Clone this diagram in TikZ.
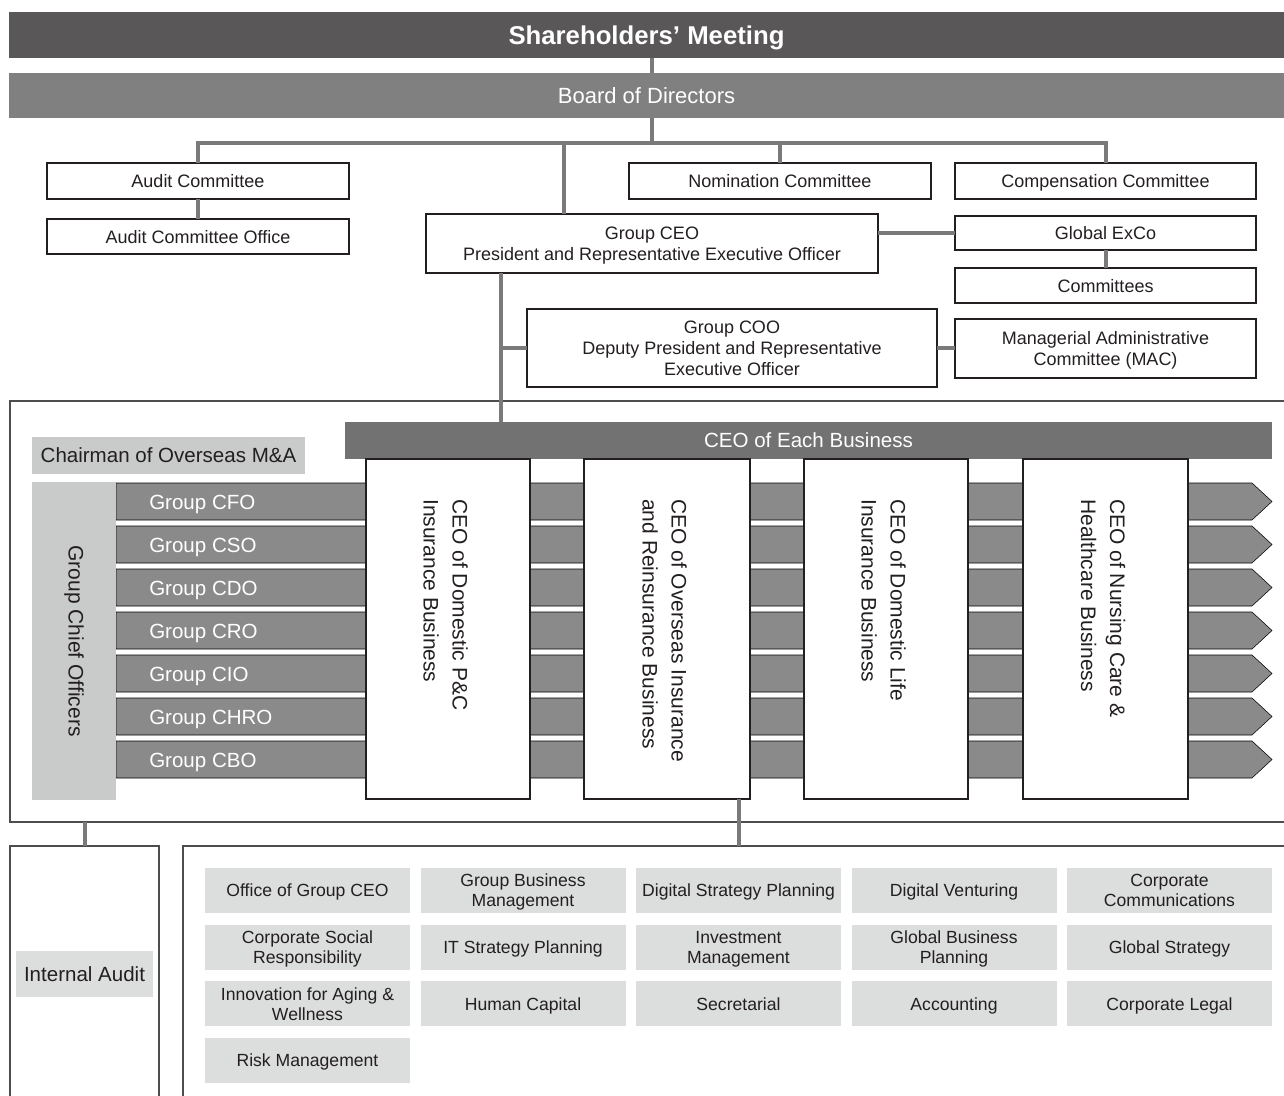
\documentclass[tikz,border=0pt]{standalone}
\usepackage{fontspec}
\setmainfont{Liberation Sans}
\definecolor{smgray}{RGB}{89,87,87}
\definecolor{bodgray}{RGB}{128,128,128}
\definecolor{ebgray}{RGB}{114,114,114}
\definecolor{bandgray}{RGB}{138,138,138}
\definecolor{litegray}{RGB}{201,202,202}
\definecolor{deptgray}{RGB}{220,221,221}
\definecolor{linegray}{RGB}{122,122,122}
\definecolor{ink}{RGB}{35,31,32}
\definecolor{framegray}{RGB}{77,77,77}
\begin{document}
\begin{tikzpicture}[x=0.75pt,y=0.75pt,yscale=-1,
  sz/.style 2 args={minimum width=#1*0.75pt,minimum height=#2*0.75pt},
  box/.style={draw=ink,line width=1pt,fill=white,text=ink,inner sep=0pt,outer sep=0pt,text depth=0pt,align=center,font=\fontsize{13.5}{15.75}\selectfont},
  bar/.style={inner sep=0pt,outer sep=0pt,text depth=0pt,text=white,align=center},
  frame/.style={draw=framegray,line width=1.5pt,inner sep=0pt,outer sep=0pt},
  conn/.style={draw=linegray,line width=3pt},
  band/.style={fill=bandgray},
  bandlbl/.style={text=white,anchor=base west,inner sep=0pt,font=\fontsize{15.4}{18}\selectfont},
  tag/.style={fill=litegray,text=ink,inner sep=0pt,outer sep=0pt,text depth=0pt,align=center,font=\fontsize{15.4}{18}\selectfont},
  vtext/.style={rotate=-90,anchor=west,align=left,text=ink,inner sep=0pt,font=\fontsize{15.75}{21.75}\selectfont},
  dept/.style={fill=deptgray,text=ink,inner sep=0pt,text depth=0pt,align=center,font=\fontsize{13.2}{15}\selectfont}]
\useasboundingbox (0,0) rectangle (1284,1095);

%Shape: Frames (open to the right and bottom)
\node[frame,sz={1290}{421}] (grp) at (655,611.5) {};
\node[frame,sz={149}{264}] (iaf) at (84.5,978) {};
\node[frame,sz={1117}{264}] (dpf) at (741.5,978) {};

% Text Node
\node[bar,fill=smgray,sz={1275}{46},font=\fontsize{19.3}{22}\selectfont\bfseries] (sm) at (646.5,35) {Shareholders’ Meeting};
% Text Node
\node[bar,fill=bodgray,sz={1275}{45},font=\fontsize{16.5}{19}\selectfont] (bod) at (646.5,95.5) {Board of Directors};

%Shape: Rectangle
\node[box,sz={302}{36}] (ac) at (198,181) {Audit Committee};
\node[box,sz={302}{35}] (aco) at (198,236.5) {Audit Committee Office};
\node[box,sz={302}{36}] (nc) at (780,181) {Nomination Committee};
\node[box,sz={301}{36}] (cc) at (1105.5,181) {Compensation Committee};
\node[box,sz={452}{59}] (ceo) at (652,243.5) {Group CEO\\President and Representative Executive Officer};
\node[box,sz={301}{34}] (gx) at (1105.5,233) {Global ExCo};
\node[box,sz={301}{35}] (cm) at (1105.5,285.5) {Committees};
\node[box,sz={410}{78}] (coo) at (732,348) {Group COO\\Deputy President and Representative\\Executive Officer};
\node[box,sz={301}{59}] (mac) at (1105.5,348.5) {Managerial Administrative\\Committee (MAC)};

%Straight Lines
\coordinate (bus) at (652,143);
\coordinate (ceotap) at (564,143);
\coordinate (spine) at (501,0);
\draw[conn] (sm.south -| ceo.north) -- (bod.north -| ceo.north);
\draw[conn] (bod.south -| bus) -- (bus);
\draw[conn] (ac.north) |- (bus) -| (cc.north);
\draw[conn] (nc.north) -- (nc.north |- bus);
\draw[conn] (ceotap) -- (ceotap |- ceo.north);
\draw[conn] (ac.south) -- (aco.north);
\draw[conn] (gx.west) -- (gx.west -| ceo.east);
\draw[conn] (gx.south) -- (cm.north);
\draw[conn] (coo.east) -- (coo.east -| mac.west);
\draw[conn] (ceo.south -| spine) -- (grp.north -| spine);
\draw[conn] (coo.west) -- (coo.west -| spine);

%Shape: Arrow bands
\foreach \lbl [count=\i from 0] in {CFO,CSO,CDO,CRO,CIO,CHRO,CBO}{
  \pgfmathsetmacro{\y}{483+43*\i}
  \draw[band] (116,\y) -- (1252,\y) -- (1272,\y+18.5) -- (1252,\y+37) -- (116,\y+37) -- cycle;
  \node[bandlbl] (g\lbl) at (149,\y+26.5) {Group \lbl};
}

% Text Node
\node[bar,fill=ebgray,sz={927}{37},font=\fontsize{15.4}{18}\selectfont] (eb) at (808.5,440.5) {CEO of Each Business};
\draw[conn] (grp.north -| spine) -- (eb.north -| spine);
\node[tag,sz={273}{37}] (mna) at (168.5,455.5) {Chairman of Overseas M\&A};
\node[tag,sz={84}{318}] (gco) at (74,641) {};
\node[vtext,anchor=center] (gcotxt) at (gco.center) {Group Chief Officers};

%Shape: Business boxes
\foreach \n/\cx/\w/\t in {pc/448/164/{CEO of Domestic P\&C\\Insurance Business},
    ovs/667/166/{CEO of Overseas Insurance\\and Reinsurance Business},
    life/886/164/{CEO of Domestic Life\\Insurance Business},
    care/1105.5/165/{CEO of Nursing Care \&\\Healthcare Business}}{
  \node[box,sz={\w}{340}] (\n) at (\cx,629) {};
  \node[vtext] (\n txt) at (\cx-2.5,499) {\t};
}

%Straight Lines
\coordinate (ovstap) at (739,799);
\draw[conn] (ovstap) -- (ovstap |- dpf.north);
\draw[conn] (iaf.north) -- (iaf.north |- grp.south);

% Text Node
\node[tag,fill=deptgray,sz={137}{46}] (ia) at (84.5,974) {Internal Audit};

%Shape: Department cells
\foreach \t [count=\i from 0] in {Office of Group CEO,{Group Business\\Management},Digital Strategy Planning,Digital Venturing,{Corporate\\Communications},
    {Corporate Social\\Responsibility},IT Strategy Planning,{Investment\\Management},{Global Business\\Planning},Global Strategy,
    {Innovation for Aging \&\\Wellness},Human Capital,Secretarial,Accounting,Corporate Legal,
    Risk Management}{
  \pgfmathtruncatemacro{\dc}{mod(\i,5)}
  \pgfmathtruncatemacro{\dr}{div(\i,5)}
  \node[dept,sz={205}{45}] (d\i) at (307.5+215.5*\dc,890.5+56.7*\dr) {\t};
}

\end{tikzpicture}
\end{document}
